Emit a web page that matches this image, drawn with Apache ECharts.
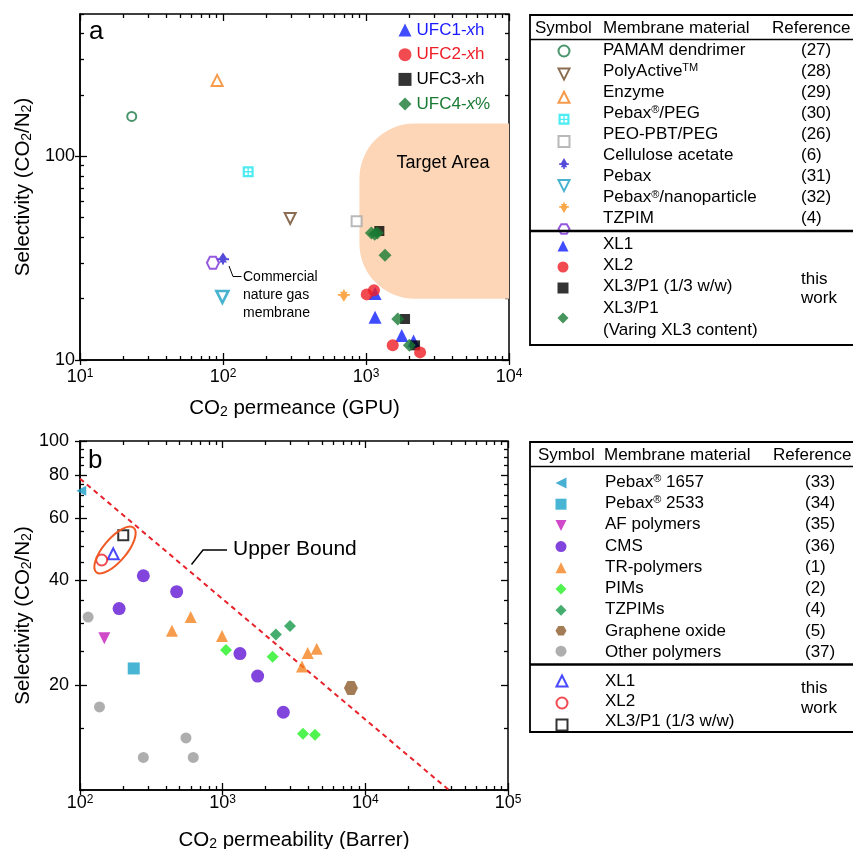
<!DOCTYPE html>
<html><head><meta charset="utf-8">
<script src="https://cdn.jsdelivr.net/npm/echarts@6/dist/echarts.min.js"></script>
<style>html,body{margin:0;padding:0;background:#fff}#c{width:853px;height:849px}</style>
</head><body><div id="c"></div><script>
const FONT = '"Liberation Sans", Arial, Helvetica, sans-serif';

// ---------- Panel a: CO2 permeance (GPU) vs selectivity ----------
const pamamA      = [[23, 157]];
const polyActiveA = [[295, 49.5]];
const enzymeA     = [[91, 236]];
const pebaxPegA   = [[150, 84]];
const peoPbtA     = [[860, 48]];
const celluloseA  = [[100, 31.5]];
const pebaxA      = [[99, 20.4]];
const pebaxNanoA  = [[700, 20.7]];
const tzpimA      = [[85, 30]];
const ufc1A = [[1157, 21.2], [1157, 16.2], [1778, 13.2], [2150, 12.4]];
const ufc2A = [[1012, 21], [1137, 22], [1538, 11.8], [2390, 10.9]];
const ufc3A = [[1240, 43], [1875, 15.9], [2203, 11.8]];
const ufc4A = [[1090, 42], [1150, 41.5], [1200, 42], [1358, 32.7], [1667, 15.9], [2010, 11.8]];
const targetAreaA = [[900, 20, 10000, 145]];

// ---------- Panel b: CO2 permeability (Barrer) vs selectivity ----------
const pebax1657B = [[102, 72]];
const pebax2533B = [[238, 22.3]];
const afPolymersB = [[148, 27.2]];
const cmsB = [[278, 41.1], [476, 37], [188, 33.1], [1322, 24.6], [1758, 21.2], [2661, 16.7]];
const trPolymersB = [[441, 28.6], [597, 31.3], [989, 27.6], [3597, 22.6], [3946, 24.7], [4563, 25.4]];
const pimsB = [[1055, 25.2], [2240, 24.1], [3656, 14.5], [4436, 14.4]];
const tzpimsB = [[2360, 27.9], [2965, 29.5]];
const grapheneB = [[7925, 19.6]];
const otherB = [[114, 31.3], [137, 17.3], [553, 14.1], [278, 12.4], [622, 12.4]];
const xl1B = [[171, 47.5]];
const xl2B = [[142, 45.6]];
const xl3B = [[201, 53.7]];
const upperBoundB = [[100, 78], [38500, 10]];

// ---------- Tick values ----------
const xMajorA = [10, 100, 1000, 10000];
const yMajorA = [10, 100];
const yMinorA = [20, 30, 40, 50, 60, 70, 80, 90, 200, 300, 400, 500];
const xMajorB = [100, 1000, 10000, 100000];
const yMajorB = [20, 40, 60, 80, 100];
const yMinorB = [10, 15, 25, 30, 35, 45, 50, 55, 65, 70, 75, 85, 90, 95];
function decadeMinors(decades) { const out = []; decades.forEach(d => { for (let k = 2; k <= 9; k++) out.push(k * d); }); return out; }
const xMinorA = decadeMinors([10, 100, 1000]);
const xMinorB = decadeMinors([100, 1000, 10000]);

// ---------- Table texts ----------
const tableHeader = ['Symbol', 'Membrane material', 'Reference'];
const tableAMaterials = ['PAMAM dendrimer', 'PolyActive{sup|TM}', 'Enzyme', 'Pebax{sup|®}/PEG', 'PEO-PBT/PEG', 'Cellulose acetate', 'Pebax', 'Pebax{sup|®}/nanoparticle', 'TZPIM'];
const tableARefs = ['(27)', '(28)', '(29)', '(30)', '(26)', '(6)', '(31)', '(32)', '(4)'];
const tableAWork = ['XL1', 'XL2', 'XL3/P1 (1/3 w/w)', 'XL3/P1', '(Varing XL3 content)'];
const tableBMaterials = ['Pebax{sup|®} 1657', 'Pebax{sup|®} 2533', 'AF polymers', 'CMS', 'TR-polymers', 'PIMs', 'TZPIMs', 'Graphene oxide', 'Other polymers'];
const tableBRefs = ['(33)', '(34)', '(35)', '(36)', '(1)', '(2)', '(4)', '(5)', '(37)'];
const tableBWork = ['XL1', 'XL2', 'XL3/P1 (1/3 w/w)'];
const thisWork = ['this', 'work'];

const seriesNamesA1 = ['PAMAM dendrimer', 'PolyActiveTM', 'Enzyme', 'Pebax®/PEG', 'PEO-PBT/PEG', 'Cellulose acetate', 'Pebax', 'Pebax®/nanoparticle', 'TZPIM'];
const seriesNamesA2 = ['UFC1-xh', 'UFC2-xh', 'UFC3-xh'];
const seriesNamesB1 = ['Pebax® 1657', 'Pebax® 2533', 'AF polymers', 'CMS', 'TR-polymers', 'PIMs', 'TZPIMs', 'Graphene oxide', 'Other polymers'];
const seriesNamesB2 = ['XL1', 'XL2', 'XL3/P1 (1/3 w/w)'];
const plotLegendLabels = {'UFC1-xh': 'UFC1-{i|x}h', 'UFC2-xh': 'UFC2-{i|x}h', 'UFC3-xh': 'UFC3-{i|x}h', 'UFC4-x%': 'UFC4-{i|x}%'};

// ---------- Symbols ----------
const SYM_GRID = 'path://M0,0H10V10H0Z M2,2V4.4H4.4V2Z M5.6,2V4.4H8V2Z M2,5.6V8H4.4V5.6Z M5.6,5.6V8H8V5.6Z';
const SYM_TREE = 'path://M5,0L8.2,5.6L10,5.6L10,7.4L7,7.4L8.4,9.6L5.8,9.6L5.8,11.5L4.2,11.5L4.2,9.6L1.6,9.6L3,7.4L0,7.4L0,5.6L1.8,5.6Z';
const SYM_TREE_DOWN = 'path://M5,11.5L8.2,5.9L10,5.9L10,4.1L7,4.1L8.4,1.9L5.8,1.9L5.8,0L4.2,0L4.2,1.9L1.6,1.9L3,4.1L0,4.1L0,5.9L1.8,5.9Z';
const SYM_HEX = 'path://M3,0L9,0L12,5.2L9,10.4L3,10.4L0,5.2Z';
const SYM_DOWN = 'path://M0,0L10,0L5,10Z';
const SYM_LEFT = 'path://M0,5L10,0L10,10Z';

const chart = echarts.init(document.getElementById('c'));

function axisSet(kind, gridIndex, min, max, major, minor, labelCfg, nameCfg) {
  const posMain = kind === 'x' ? 'bottom' : 'left';
  const posOpp = kind === 'x' ? 'top' : 'right';
  const base = {type: 'log', logBase: 10, gridIndex, min, max, silent: true, show: true,
    splitLine: {show: false},
    axisLine: {show: true, onZero: false, lineStyle: {color: 'rgba(0,0,0,0)', width: 0.1}},
    axisLabel: {show: false}, axisTick: {show: false}};
  const main = Object.assign({}, base, {
    position: posMain,
    axisLine: {show: true, onZero: false, lineStyle: {color: '#000', width: 1.5}},
    axisTick: {show: true, inside: false, length: 5, customValues: major, lineStyle: {color: '#000', width: 1.3}},
    axisLabel: labelCfg,
    nameMoveOverlap: false
  }, nameCfg);
  const tk = (pos, vals, len) => Object.assign({}, base, {position: pos,
    axisTick: {show: true, inside: true, length: len, customValues: vals, lineStyle: {color: '#000', width: 1.3}}});
  return [main, tk(posMain, major, 7), tk(posMain, minor, 4), tk(posOpp, major, 7), tk(posOpp, minor, 4)];
}

const supRich = {sup: {fontSize: 12, fontFamily: FONT, color: '#000', verticalAlign: 'top'}};
const subRich = {sub: {fontSize: 14, fontFamily: FONT, color: '#000', verticalAlign: 'bottom'}};
const powFmt = v => '10{sup|' + Math.round(Math.log10(v)) + '}';
const nameStyle = {fontSize: 20.5, color: '#000', fontFamily: FONT, rich: subRich};

const xAxes = [
  ...axisSet('x', 0, 10, 10000, xMajorA, xMinorA,
    {show: true, customValues: xMajorA, formatter: powFmt, fontSize: 18, color: '#000', fontFamily: FONT, margin: 8, rich: supRich},
    {name: 'CO{sub|2} permeance (GPU)', nameLocation: 'middle', nameGap: 38, nameTextStyle: nameStyle}),
  ...axisSet('x', 1, 100, 100000, xMajorB, xMinorB,
    {show: true, customValues: xMajorB, formatter: powFmt, fontSize: 18, color: '#000', fontFamily: FONT, margin: 4, rich: supRich},
    {name: 'CO{sub|2} permeability (Barrer)', nameLocation: 'middle', nameGap: 40, nameTextStyle: nameStyle})
];
const yAxes = [
  ...axisSet('y', 0, 10, 500, yMajorA, yMinorA,
    {show: true, customValues: yMajorA, formatter: v => String(Math.round(v)), fontSize: 18, color: '#000', fontFamily: FONT, margin: 5},
    {name: 'Selectivity (CO{sub|2}/N{sub|2})', nameLocation: 'middle', nameGap: 46, nameTextStyle: nameStyle}),
  ...axisSet('y', 1, 10, 100, yMajorB, yMinorB,
    {show: true, customValues: yMajorB, formatter: v => String(Math.round(v)), fontSize: 18, color: '#000', fontFamily: FONT, margin: 11},
    {name: 'Selectivity (CO{sub|2}/N{sub|2})', nameLocation: 'middle', nameGap: 46, nameTextStyle: nameStyle})
];

function sc(name, data, g, symbol, size, itemStyle) {
  return {type: 'scatter', name, data, xAxisIndex: g * 5, yAxisIndex: g * 5,
    symbol, symbolSize: size, itemStyle, silent: true, z: 3};
}
const hollow = (c, w) => ({color: '#fff', borderColor: c, borderWidth: w || 2});

const series = [
  {type: 'custom', name: 'Target Area', xAxisIndex: 0, yAxisIndex: 0, z: 1, silent: true, data: targetAreaA,
    renderItem: (params, api) => {
      const p1 = api.coord([api.value(0), api.value(3)]);
      const p2 = api.coord([api.value(2), api.value(1)]);
      return {type: 'rect', shape: {x: p1[0], y: p1[1], width: p2[0] - p1[0], height: p2[1] - p1[1], r: [55, 0, 0, 55]},
        style: {fill: '#fcd6b6'}};
    }},
  sc('PAMAM dendrimer', pamamA, 0, 'circle', 9, hollow('#1d7a46')),
  sc('PolyActiveTM', polyActiveA, 0, SYM_DOWN, 11, hollow('#6e4a26')),
  sc('Enzyme', enzymeA, 0, 'triangle', 11, hollow('#f4811f')),
  sc('Pebax®/PEG', pebaxPegA, 0, SYM_GRID, 11, {color: '#1fe7ef'}),
  sc('PEO-PBT/PEG', peoPbtA, 0, 'rect', 10, hollow('#a8a8a8')),
  sc('Cellulose acetate', celluloseA, 0, SYM_TREE, 12, {color: '#2a1fcf'}),
  sc('Pebax', pebaxA, 0, SYM_DOWN, 12, hollow('#1aa0c4', 2.6)),
  sc('Pebax®/nanoparticle', pebaxNanoA, 0, SYM_TREE_DOWN, 12, {color: '#f7931e'}),
  sc('TZPIM', tzpimA, 0, SYM_HEX, 12, hollow('#7a2fd8')),
  sc('UFC1-xh', ufc1A, 0, 'triangle', 13, {color: '#0f1fff'}),
  sc('UFC3-xh', ufc3A, 0, 'rect', 10, {color: '#000'}),
  sc('UFC4-x%', ufc4A, 0, 'diamond', 13, {color: '#197a33'}),
  sc('UFC2-xh', ufc2A, 0, 'circle', 12, {color: '#ee1d25'}),

  {type: 'line', name: 'Upper Bound', xAxisIndex: 5, yAxisIndex: 5, data: upperBoundB, showSymbol: false, symbol: 'none',
    silent: true, z: 2, lineStyle: {color: '#e8222a', width: 2, type: [5, 4]}},
  sc('Pebax® 1657', pebax1657B, 1, SYM_LEFT, 10, {color: '#1a9cc8'}),
  sc('Pebax® 2533', pebax2533B, 1, 'rect', 12, {color: '#1aa3cb'}),
  sc('AF polymers', afPolymersB, 1, SYM_DOWN, 12, {color: '#c41cbc'}),
  sc('CMS', cmsB, 1, 'circle', 13, {color: '#6216d6'}),
  sc('TR-polymers', trPolymersB, 1, 'triangle', 12, {color: '#f5821f'}),
  sc('PIMs', pimsB, 1, 'diamond', 12, {color: '#25f025'}),
  sc('TZPIMs', tzpimsB, 1, 'diamond', 12, {color: '#16994a'}),
  sc('Graphene oxide', grapheneB, 1, SYM_HEX, 14, {color: '#8c5a2a'}),
  sc('Other polymers', otherB, 1, 'circle', 11, {color: '#9a9a9a'}),
  sc('XL1', xl1B, 1, 'triangle', 11, hollow('#1a1aff')),
  sc('XL2', xl2B, 1, 'circle', 11, hollow('#ee1d25')),
  sc('XL3/P1 (1/3 w/w)', xl3B, 1, 'rect', 10, hollow('#000'))
];

function iconLegend(names, cx, cy, pitch, size) {
  return {orient: 'vertical', left: cx - size / 2, top: cy - size / 2, padding: 0, itemGap: pitch - size,
    itemWidth: size, itemHeight: size, selectedMode: false, data: names, formatter: () => '',
    textStyle: {fontSize: 1, lineHeight: 1}};
}
const legends = [
  {orient: 'vertical', left: 398.5, top: 21, padding: 0, itemGap: 6.7, itemWidth: 13, itemHeight: 13, selectedMode: false,
    data: [{name: 'UFC1-xh', textStyle: {color: '#1a1aff'}}, {name: 'UFC2-xh', textStyle: {color: '#ee1d25'}},
      {name: 'UFC3-xh', textStyle: {color: '#000'}}, {name: 'UFC4-x%', textStyle: {color: '#197a33'}}],
    formatter: n => plotLegendLabels[n],
    textStyle: {fontSize: 17, lineHeight: 18, fontFamily: FONT,
      rich: {i: {fontSize: 17, lineHeight: 18, fontStyle: 'italic', fontFamily: FONT}}}},
  iconLegend(seriesNamesA1, 563, 50, 21.1, 11),
  iconLegend(seriesNamesA2, 563, 246, 21, 11),
  iconLegend(['UFC4-x%'], 563, 318, 21, 11),
  iconLegend(seriesNamesB1, 561, 483, 21.2, 11),
  iconLegend(seriesNamesB2, 561, 680, 20, 11)
];

function T(x, y, text, size, extra) {
  return {type: 'text', x, y, silent: true, z: 10,
    style: Object.assign({text, fill: '#000', fontSize: size, fontFamily: FONT,
      textAlign: 'left', textVerticalAlign: 'middle', align: 'left', verticalAlign: 'middle',
      rich: {sup: {fontSize: Math.round(size * 0.62), fontFamily: FONT, verticalAlign: 'top'}}}, extra || {})};
}
const L = (x1, y1, x2, y2, w) => ({type: 'line', silent: true, z: 10, shape: {x1, y1, x2, y2}, style: {stroke: '#000', lineWidth: w || 1.5}});
const R = (x, y, w, h) => ({type: 'rect', silent: true, z: 10, shape: {x, y, width: w, height: h}, style: {fill: 'none', stroke: '#000', lineWidth: 1.8}});

const G = [];
G.push(T(89, 32, 'a', 26));
G.push(T(88, 461, 'b', 26));
G.push(T(443, 163, 'Target Area', 18, {textAlign: 'center', align: 'center'}));
G.push({type: 'polyline', silent: true, z: 10, shape: {points: [[229, 266], [233, 276.5], [241.5, 276.5]]}, style: {stroke: '#000', lineWidth: 1, fill: 'none'}});
G.push(T(243, 277.5, 'Commercial', 14));
G.push(T(243, 295.5, 'nature gas', 14));
G.push(T(243, 313, 'membrane', 14));
G.push({type: 'polyline', silent: true, z: 10, shape: {points: [[191.5, 564.5], [203, 550], [227, 550]]}, style: {stroke: '#000', lineWidth: 1.4, fill: 'none'}});
G.push(T(233, 549.5, 'Upper Bound', 21));
G.push({type: 'ellipse', silent: true, z: 10, x: 115, y: 550, rotation: 0.87, shape: {cx: 0, cy: 0, rx: 29, ry: 11.5}, style: {fill: 'none', stroke: '#f15a24', lineWidth: 2}});

// table a
G.push(R(530, 15, 340, 330));
G.push(L(530, 39.5, 870, 39.5));
G.push(L(530, 231, 870, 231, 2.6));
G.push(T(535, 28.5, tableHeader[0], 17));
G.push(T(603, 28.5, tableHeader[1], 17));
G.push(T(772, 28.5, tableHeader[2], 17));
tableAMaterials.forEach((s, i) => G.push(T(603, 50 + 21.1 * i, s, 17)));
tableARefs.forEach((s, i) => G.push(T(801, 50 + 21.1 * i, s, 17)));
[244, 265, 286, 308.5, 330].forEach((y, i) => G.push(T(603, y, tableAWork[i], 17)));
G.push(T(801, 279, thisWork[0], 17));
G.push(T(801, 298, thisWork[1], 17));

// table b
G.push(R(530, 442, 340, 290));
G.push(L(530, 466.5, 870, 466.5));
G.push(L(530, 664.5, 870, 664.5, 2.6));
G.push(T(538, 455.5, tableHeader[0], 17));
G.push(T(604, 455.5, tableHeader[1], 17));
G.push(T(773, 455.5, tableHeader[2], 17));
tableBMaterials.forEach((s, i) => G.push(T(605, 482 + 21.3 * i, s, 17)));
tableBRefs.forEach((s, i) => G.push(T(805, 482 + 21.3 * i, s, 17)));
[681, 701, 721].forEach((y, i) => G.push(T(605, y, tableBWork[i], 17)));
G.push(T(801, 688, thisWork[0], 17));
G.push(T(801, 708, thisWork[1], 17));

chart.setOption({
  animation: false,
  backgroundColor: '#fff',
  textStyle: {fontFamily: FONT},
  grid: [
    {left: 80, top: 14, width: 429, height: 346, show: true, borderColor: '#000', borderWidth: 1.5, backgroundColor: 'transparent', containLabel: false, outerBoundsMode: 'none'},
    {left: 80, top: 441, width: 428, height: 349, show: true, borderColor: '#000', borderWidth: 1.5, backgroundColor: 'transparent', containLabel: false, outerBoundsMode: 'none'}
  ],
  xAxis: xAxes,
  yAxis: yAxes,
  legend: legends,
  graphic: {elements: G},
  series
});
</script></body></html>
